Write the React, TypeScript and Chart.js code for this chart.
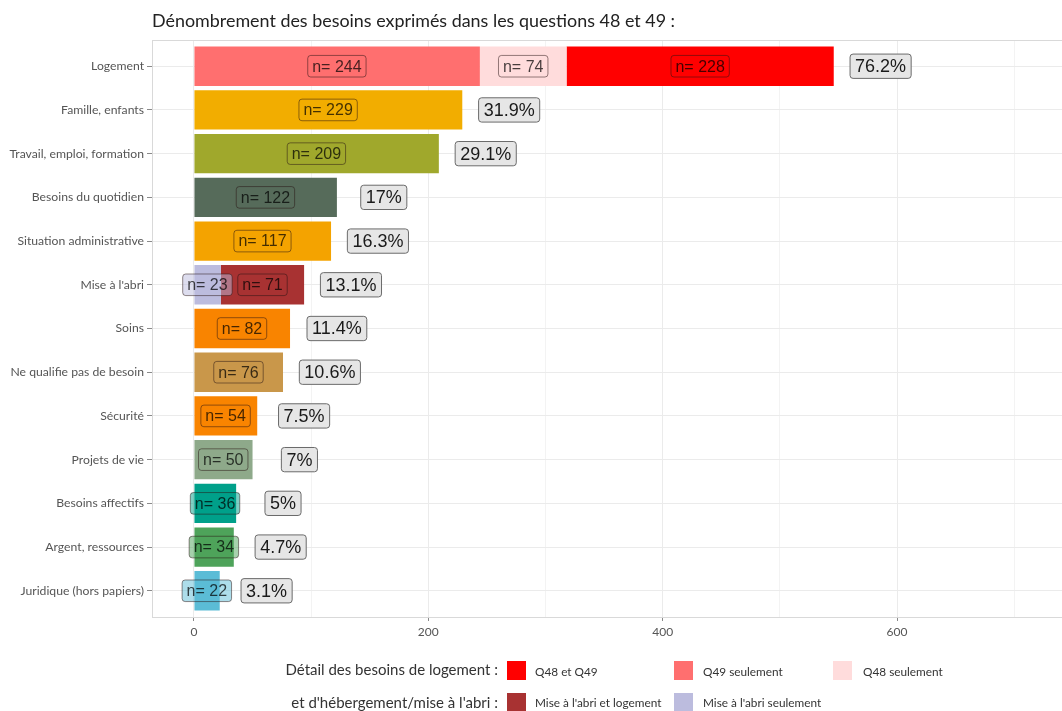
import React, { useEffect, useRef } from "react";
import { Chart, registerables } from "chart.js";

Chart.register(...registerables);

const categories = [
  "Logement",
  "Famille, enfants",
  "Travail, emploi, formation",
  "Besoins du quotidien",
  "Situation administrative",
  "Mise à l'abri",
  "Soins",
  "Ne qualifie pas de besoin",
  "Sécurité",
  "Projets de vie",
  "Besoins affectifs",
  "Argent, ressources",
  "Juridique (hors papiers)",
];

// first segment of each bar
const segment1 = [244, 229, 209, 122, 117, 23, 82, 76, 54, 50, 36, 34, 22];
// second segment (Logement: Q48 seulement, Mise à l'abri: et logement)
const segment2 = [74, null, null, null, null, 71, null, null, null, null, null, null, null];
// third segment (Logement: Q48 et Q49)
const segment3 = [228, null, null, null, null, null, null, null, null, null, null, null, null];

const percentLabels = ["76.2%", "31.9%", "29.1%", "17%", "16.3%", "13.1%", "11.4%", "10.6%", "7.5%", "7%", "5%", "4.7%", "3.1%"];

const colors1 = ["#FF6F6F", "#F2AD00", "#A0A82C", "#566B5A", "#F4A300", "#BCBCDE", "#F98400", "#C9974A", "#F98400", "#8EA98A", "#00A08A", "#4EA35A", "#5BBCD6"];
const colors2 = ["#FFDCDC", null, null, null, null, "#A83232", null, null, null, null, null, null, null];
const colors3 = ["#FF0000", null, null, null, null, null, null, null, null, null, null, null, null];

const xTicks = [0, 100, 200, 300, 400, 500, 600, 700];
const xLabelled = [0, 200, 400, 600];

const legendRow1 = [
  { label: "Q48 et Q49", color: "#FF0000" },
  { label: "Q49 seulement", color: "#FF6F6F" },
  { label: "Q48 seulement", color: "#FFDCDC" },
];
const legendRow2 = [
  { label: "Mise à l'abri et logement", color: "#A83232" },
  { label: "Mise à l'abri seulement", color: "#BCBCDE" },
];

const UI_FONT = "Lato, 'Open Sans', sans-serif";
const LABEL_FONT = "'Liberation Sans', Arial, sans-serif";

function hexA(hex: string, a: number) {
  const r = parseInt(hex.slice(1, 3), 16);
  const g = parseInt(hex.slice(3, 5), 16);
  const b = parseInt(hex.slice(5, 7), 16);
  return `rgba(${r},${g},${b},${a})`;
}

function drawLabel(ctx: CanvasRenderingContext2D, text: string, cx: number, cy: number, size: number, fill: string, stroke: string, textColor: string) {
  ctx.save();
  ctx.font = `${size}px ${LABEL_FONT}`;
  const w = ctx.measureText(text).width;
  const padX = size * 0.28;
  const h = size * 1.35;
  const x = cx - w / 2 - padX;
  const y = cy - h / 2;
  ctx.beginPath();
  (ctx as any).roundRect(x, y, w + padX * 2, h, 3);
  ctx.fillStyle = fill;
  ctx.fill();
  ctx.lineWidth = 1;
  ctx.strokeStyle = stroke;
  ctx.stroke();
  ctx.fillStyle = textColor;
  ctx.textAlign = "center";
  ctx.textBaseline = "middle";
  ctx.fillText(text, cx, cy + 1);
  ctx.restore();
}

const panelPlugin = {
  id: "panel",
  beforeDatasetsDraw(chart: any) {
    const { ctx, chartArea } = chart;
    ctx.save();
    ctx.strokeStyle = "#d9d9d9";
    ctx.lineWidth = 1;
    ctx.strokeRect(chartArea.left + 0.5, chartArea.top + 0.5, chartArea.right - chartArea.left, chartArea.bottom - chartArea.top);
    ctx.restore();
  },
  afterDatasetsDraw(chart: any) {
    const { ctx } = chart;
    const xs = chart.scales.x;
    const ys = chart.scales.y;
    categories.forEach((_, i) => {
      const cy = ys.getPixelForValue(i);
      let start = 0;
      const segs: [number | null, string | null][] = [
        [segment1[i], colors1[i]],
        [segment2[i], colors2[i]],
        [segment3[i], colors3[i]],
      ];
      segs.forEach(([v, c]) => {
        if (v == null || c == null) return;
        const mid = start + v / 2;
        drawLabel(ctx, `n= ${v}`, xs.getPixelForValue(mid), cy, 16, hexA(c, 0.5), "rgba(40,20,20,0.5)", "rgba(0,0,0,0.72)");
        start += v;
      });
      drawLabel(ctx, percentLabels[i], xs.getPixelForValue(start + 40), cy, 18, "#e6e6e6", "#6b6b6b", "#1a1a1a");
    });
  },
};

export default function App() {
  const ref = useRef<HTMLCanvasElement>(null);
  useEffect(() => {
    if (!ref.current) return;
    const mk = (vals: (number | null)[], cols: (string | null)[]) =>
      vals.map((v, i) => (v == null ? null : { x: v, y: i, c: cols[i] })).filter((d) => d) as any[];
    const d1 = mk(segment1, colors1);
    const d2 = mk(segment2, colors2);
    const d3 = mk(segment3, colors3);
    const chart = new Chart(ref.current, {
      type: "bar",
      data: {
        datasets: [d1, d2, d3].map((d) => ({
          data: d,
          backgroundColor: d.map((p: any) => p.c),
          borderWidth: 0,
          barPercentage: 0.9,
          categoryPercentage: 1,
        })),
      },
      options: {
        indexAxis: "y",
        responsive: false,
        animation: false,
        layout: { padding: { top: 40, left: 0, right: 0, bottom: 0 } },
        plugins: { legend: { display: false }, tooltip: { enabled: false } },
        scales: {
          x: {
            type: "linear",
            stacked: true,
            offset: false,
            min: -35.8,
            max: 740.8,
            afterBuildTicks: (s: any) => {
              s.ticks = xTicks.map((v) => ({ value: v }));
            },
            afterFit: (s: any) => {
              s.height = 94;
            },
            ticks: {
              autoSkip: false,
              maxRotation: 0,
              padding: 4,
              color: "#555555",
              font: { family: UI_FONT, size: 12 },
              callback: (v: any) => (xLabelled.includes(v) ? String(v) : ""),
            },
            grid: {
              offset: false,
              color: (c: any) => (xLabelled.includes(c.tick?.value) ? "#ebebeb" : "#f3f3f3"),
              lineWidth: 1,
              tickLength: 4,
              tickColor: (c: any) => (xLabelled.includes(c.tick?.value) ? "#8a8a8a" : "rgba(0,0,0,0)"),
            },
            border: { display: false },
          },
          y: {
            type: "linear",
            stacked: true,
            reverse: true,
            offset: false,
            min: -0.6,
            max: 12.6,
            afterBuildTicks: (s: any) => {
              s.ticks = categories.map((_, i) => ({ value: i }));
            },
            afterFit: (s: any) => {
              s.width = 152;
            },
            ticks: {
              autoSkip: false,
              padding: 3,
              color: "#555555",
              font: { family: UI_FONT, size: 12.2 },
              callback: (v: any) => categories[v as number] ?? "",
            },
            grid: {
              offset: false,
              color: "#ebebeb",
              lineWidth: 1,
              tickLength: 5,
              tickColor: "#8a8a8a",
            },
            border: { display: false },
          },
        },
      },
      plugins: [panelPlugin],
    } as any);
    return () => chart.destroy();
  }, []);

  const swatchX = [507, 674, 833];
  const textX = [535, 703, 863];

  return (
    <div style={{ position: "relative", width: 1062, height: 711, overflow: "hidden", background: "#fff", fontFamily: UI_FONT }}>
      <style>{`body{margin:0;}`}</style>
      <canvas ref={ref} width={1062} height={711} style={{ position: "absolute", left: 0, top: 0 }} />
      <div style={{ position: "absolute", left: 152, top: 9, fontSize: 17.9, color: "#222", whiteSpace: "nowrap" }}>
        Dénombrement des besoins exprimés dans les questions 48 et 49 :
      </div>
      <div style={{ position: "absolute", right: 1062 - 498, top: 660, fontSize: 15, color: "#333", whiteSpace: "nowrap" }}>
        Détail des besoins de logement :
      </div>
      <div style={{ position: "absolute", right: 1062 - 498, top: 693, fontSize: 15, color: "#333", whiteSpace: "nowrap" }}>
        et d'hébergement/mise à l'abri :
      </div>
      {legendRow1.map((it, i) => (
        <React.Fragment key={"a" + i}>
          <div style={{ position: "absolute", left: swatchX[i], top: 661, width: 19, height: 19, background: it.color }} />
          <div style={{ position: "absolute", left: textX[i], top: 664, fontSize: 11.8, color: "#333", whiteSpace: "nowrap" }}>{it.label}</div>
        </React.Fragment>
      ))}
      {legendRow2.map((it, i) => (
        <React.Fragment key={"b" + i}>
          <div style={{ position: "absolute", left: swatchX[i], top: 693, width: 19, height: 19, background: it.color }} />
          <div style={{ position: "absolute", left: textX[i], top: 695, fontSize: 11.8, color: "#333", whiteSpace: "nowrap" }}>{it.label}</div>
        </React.Fragment>
      ))}
    </div>
  );
}
